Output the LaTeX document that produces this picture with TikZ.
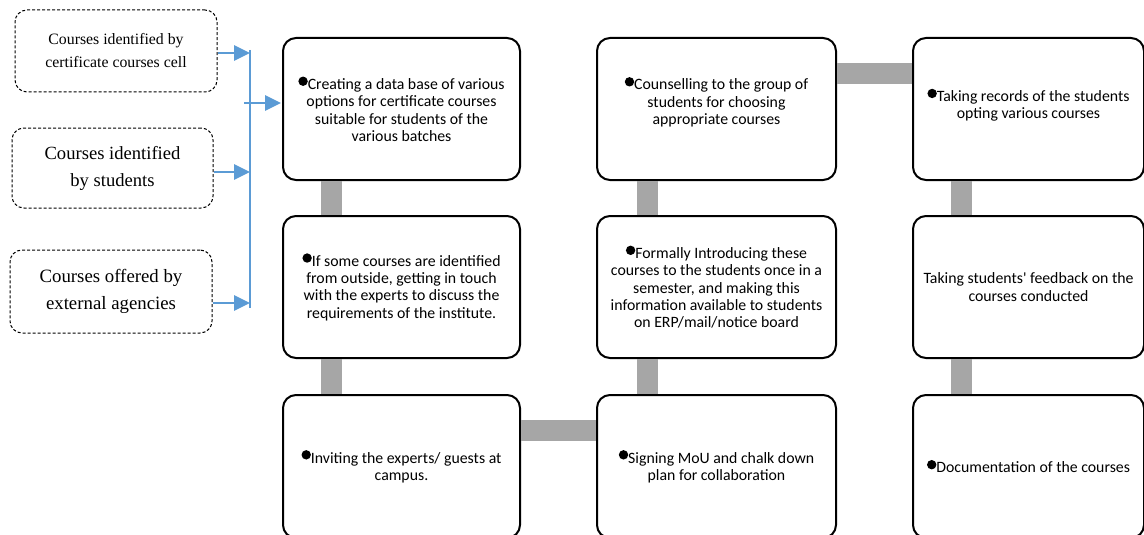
\documentclass[tikz,border=0pt]{standalone}
\usepackage{fontspec}
\setmainfont{Carlito}
\newfontfamily\srcfont{Liberation Serif}
\usetikzlibrary{arrows.meta}
\definecolor{arrowblue}{HTML}{5B9BD5}
\definecolor{bargray}{HTML}{A6A6A6}
\newcommand\bul{\tikz[baseline=0pt]\fill (4.6pt,8.2pt) circle (4.7pt);}
\begin{document}
\begin{tikzpicture}[x=1pt,y=-1pt,
  stepbox/.style={draw=black, line width=2pt, rounded corners=13pt,
    minimum width=237pt, minimum height=142pt, align=center, inner sep=0pt,
    font=\fontsize{15.8}{17.3}\selectfont},
  srcbox/.style={draw=black, dash pattern=on 3pt off 2pt, line width=1pt,
    rounded corners=12pt, align=center, inner sep=0pt},
  bar/.style={bargray, line width=21pt},
  feed/.style={arrowblue, line width=2.8pt},
  feedarrow/.style={feed, -{Triangle[length=16pt,width=15pt]}},
]
\clip (0,0) rectangle (1144,535);
\fill[white] (0,0) rectangle (1144,535);

% source boxes
\node[srcbox, minimum width=202pt, minimum height=82pt,
  font=\srcfont\fontsize{15.8}{23}\selectfont] (s1) at (116,51)
  {Courses identified by\\certificate courses cell};
\node[srcbox, minimum width=201pt, minimum height=80pt,
  font=\srcfont\fontsize{18.6}{27}\selectfont] (s2) at (112.5,168)
  {Courses identified\\by students};
\node[srcbox, minimum width=202pt, minimum height=83pt,
  font=\srcfont\fontsize{18.8}{27}\selectfont] (s3) at (111,291.5)
  {Courses offered by\\external agencies};

% main step boxes
\node[stepbox] (a1) at (401.5,109)
  {\bul Creating a data base of various\\options for certificate courses\\suitable for students of the\\various batches};
\node[stepbox] (a2) at (401.5,287)
  {\bul If some courses are identified\\from outside, getting in touch\\with the experts to discuss the\\requirements of the institute.};
\node[stepbox, minimum height=143pt] (a3) at (401.5,466.5)
  {\bul Inviting the experts/ guests at\\campus.};
\node[stepbox, minimum width=239pt, minimum height=143pt] (b3) at (716.5,466.5)
  {\bul Signing MoU and chalk down\\plan for collaboration};
\node[stepbox, minimum width=239pt] (b2) at (716.5,287)
  {\bul Formally Introducing these\\courses to the students once in a\\semester, and making this\\information available to students\\on ERP/mail/notice board};
\node[stepbox, minimum width=239pt] (b1) at (716.5,109)
  {\bul Counselling to the group of\\students for choosing\\appropriate courses\\[-1pt]};
\node[stepbox, minimum width=231pt] (c1) at (1028.5,109)
  {\bul Taking records of the students\\opting various courses\\[-7pt]};
\node[stepbox, minimum width=231pt] (c2) at (1028.5,287)
  {Taking students\textquotesingle\ feedback on the\\courses conducted};
\node[stepbox, minimum width=231pt, minimum height=143pt] (c3) at (1028.5,466.5)
  {\bul Documentation of the courses};

% gray bars between boxes
\draw[bar] ([xshift=-70.5pt]a1.south) -- ([xshift=-70.5pt]a2.north);
\draw[bar] ([xshift=-70.5pt]a2.south) -- ([xshift=-70.5pt]a3.north);
\draw[bar] ([yshift=36pt]a3.east) -- ([yshift=36pt]b3.west);
\draw[bar] ([xshift=-69.5pt]b3.north) -- ([xshift=-69.5pt]b2.south);
\draw[bar] ([xshift=-69.5pt]b2.north) -- ([xshift=-69.5pt]b1.south);
\draw[bar] ([yshift=35pt]b1.east) -- ([yshift=35pt]c1.west);
\draw[bar] ([xshift=-67.5pt]c1.south) -- ([xshift=-67.5pt]c2.north);
\draw[bar] ([xshift=-67.5pt]c2.south) -- ([xshift=-67.5pt]c3.north);

% blue feed lines
\coordinate (tt) at (250,50);
\coordinate (tb) at (250,308);
\coordinate (m) at (244,103);
\draw[feed] (tt) -- (tb);
\draw[feedarrow] ([yshift=-2pt]s1.east) -- ([yshift=-2pt]s1.east -| tt);
\draw[feedarrow] ([yshift=-4pt]s2.east) -- ([yshift=-4pt]s2.east -| tt);
\draw[feedarrow] ([yshift=-11.5pt]s3.east) -- ([yshift=-11.5pt]s3.east -| tt);
\draw[feedarrow] (m) -- ([xshift=-1pt]m -| a1.west);
\end{tikzpicture}
\end{document}
